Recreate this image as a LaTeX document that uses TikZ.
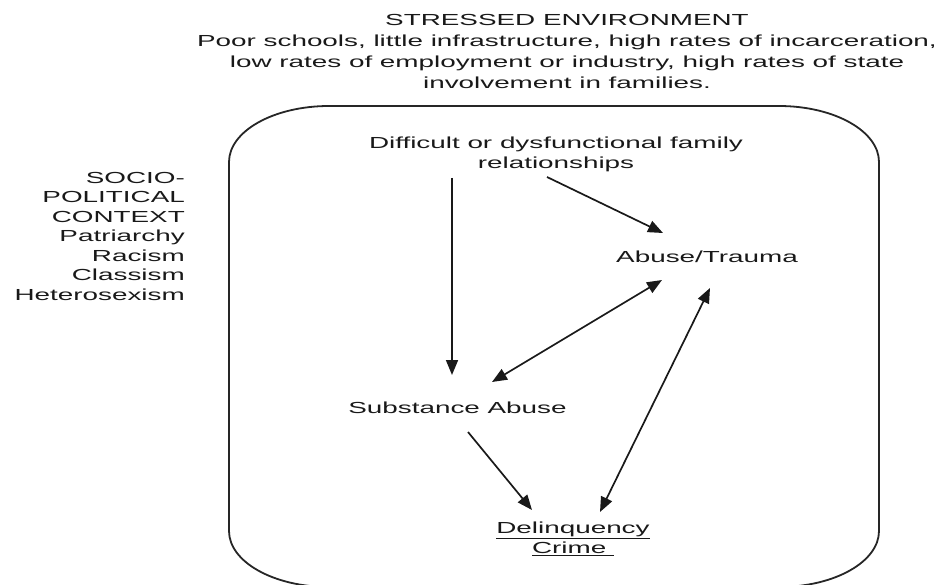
\documentclass[tikz,border=0pt]{standalone}
\usepackage{fontspec}
\setmainfont{Liberation Sans}
\usetikzlibrary{arrows.meta}
\newcommand\sx[1]{\scalebox{1.74}[1]{#1}}
\begin{document}
\begin{tikzpicture}[x=1pt,y=-1pt,
  lbl/.style={inner sep=0pt, font=\fontsize{16}{19.5}\selectfont, text=black!90},
  link/.style={line width=1.7pt, black!90, -{Triangle[length=15pt,width=12pt]}},
  link2/.style={line width=1.7pt, black!90, {Triangle[length=15pt,width=12pt]}-{Triangle[length=15pt,width=12pt]}},
  frame/.style={line width=1.8pt, black!85}]
\useasboundingbox (0,0) rectangle (942,585);
\clip (0,0) rectangle (942,585);

% outer frame with rounded corners
\draw[frame] (329,106) -- (779,106)
  .. controls (834.2,106) and (879,131.1) .. (879,162) -- (879,531)
  .. controls (879,561.9) and (834.2,587) .. (779,587) -- (329,587)
  .. controls (273.8,587) and (229,561.9) .. (229,531) -- (229,162)
  .. controls (229,131.1) and (273.8,106) .. (329,106) -- cycle;

% texts
\node[lbl] (env) at (567,53) {\sx{\fontsize{16}{21}\selectfont\begin{tabular}{@{}c@{}}STRESSED ENVIRONMENT\\Poor schools, little infrastructure, high rates of incarceration,\\low rates of employment or industry, high rates of state\\involvement in families.\end{tabular}}};

\node[lbl, anchor=east] (ctx) at (185,238) {\sx{\begin{tabular}{@{}r@{}}SOCIO-\\POLITICAL\\CONTEXT\\Patriarchy\\Racism\\Classism\\Heterosexism\end{tabular}}};

\node[lbl] (fam) at (556,154.5) {\sx{\begin{tabular}{@{}c@{}}Difficult or dysfunctional family\\relationships\end{tabular}}};
\node[lbl] (abuse) at (707,257) {\sx{Abuse/Trauma}};
\node[lbl] (subst) at (457.5,408) {\sx{Substance Abuse}};
\node[lbl] (delinq) at (573,539.5) {\sx{\begin{tabular}{@{}c@{}}\underline{Delinquency}\\\underline{Crime\ }\end{tabular}}};

% connectors
\draw[link] ([shift={(-104,23.5)}]fam.center) -- ([shift={(-5.5,-33)}]subst.center);
\draw[link] ([shift={(-9,22.5)}]fam.center) -- ([shift={(-44,-24)}]abuse.center);
\draw[link2] ([shift={(-45,23)}]abuse.center) -- ([shift={(34.5,-26)}]subst.center);
\draw[link2] ([shift={(3,31)}]abuse.center) -- ([shift={(27,-27.5)}]delinq.center);
\draw[link] ([shift={(10.5,24)}]subst.center) -- ([shift={(-41,-29.5)}]delinq.center);
\end{tikzpicture}
\end{document}
